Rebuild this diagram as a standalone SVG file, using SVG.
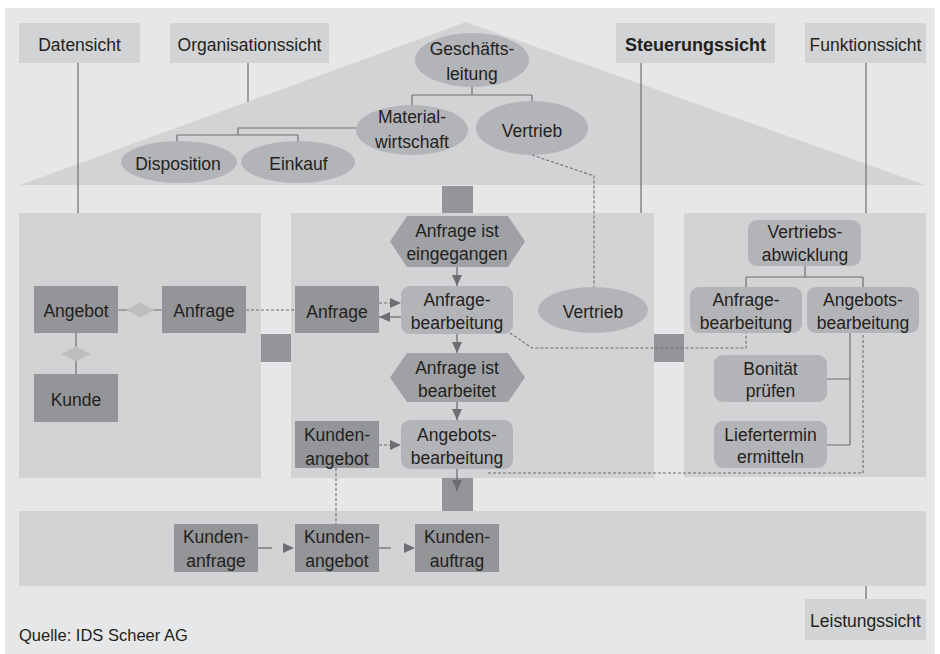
<svg xmlns="http://www.w3.org/2000/svg" width="940" height="654" viewBox="0 0 940 654">
  <defs>
    <style>
      text { font-family: "Liberation Sans", Arial, sans-serif; font-size: 17.5px; fill: #231f20; text-anchor: middle; }
      .bold { font-weight: bold; font-size: 18px; }
      .left { text-anchor: start; font-size: 16.5px; }
      .bg { fill: #e6e7e8; }
      .panel { fill: #d1d3d4; }
      .dark { fill: #939598; }
      .mid { fill: #b3b4b7; }
      .hex { fill: #9fa1a4; }
      .dia { fill: #bcbec0; }
      .link { fill: none; stroke: #6d6e71; stroke-width: 1.2; }
      .dash { fill: none; stroke: #6d6e71; stroke-width: 1.1; stroke-dasharray: 3 2; }
      .arrow { fill: none; stroke: #6d6e71; stroke-width: 1.3; }
    </style>
    <marker id="head" markerUnits="userSpaceOnUse" markerWidth="11" markerHeight="10" viewBox="0 0 11 10" refX="11" refY="5" orient="auto">
      <path d="M0 0 L11 5 L0 10 Z" fill="#6d6e71"/>
    </marker>
  </defs>

  <!-- background -->
  <rect class="bg" x="5" y="8" width="930" height="646"/>

  <!-- roof: organisation view -->
  <polygon id="roof" class="panel" points="20,185 466,22 925,185"/>

  <!-- view panels -->
  <rect id="panel-data" class="panel" x="19" y="213" width="242" height="265"/>
  <rect id="panel-control" class="panel" x="291" y="213" width="363" height="265"/>
  <rect id="panel-function" class="panel" x="684" y="213" width="242" height="264"/>
  <rect id="panel-output" class="panel" x="19" y="511" width="907" height="75"/>

  <!-- joints between views -->
  <g id="joints">
    <rect class="dark" x="442" y="186" width="31" height="27"/>
    <rect class="dark" x="261" y="334" width="30" height="28"/>
    <rect class="dark" x="654" y="334" width="30" height="28"/>
    <rect class="dark" x="442" y="478" width="31" height="33"/>
  </g>

  <!-- connectors -->
  <g id="connectors">
    <!-- view labels to their areas -->
    <path class="link" d="M78 63 V213"/>
    <path class="link" d="M248 63 V102"/>
    <path class="link" d="M641 63 V213"/>
    <path class="link" d="M866 63 V213"/>
    <path class="link" d="M866 586 V599"/>
    <!-- organisation tree -->
    <path class="link" d="M472 87 V95 M412 95 H532 M412 95 V106 M532 95 V101"/>
    <path class="link" d="M356 128 H238 V135 M177 135 H298 M177 135 V142 M298 135 V142"/>
    <!-- data model relations -->
    <path class="link" d="M118 310 H162"/>
    <path class="link" d="M76 333 V374"/>
    <!-- function tree -->
    <path class="link" d="M805 266 V277 M746 277 H863 M746 277 V287 M863 277 V287"/>
    <path class="link" d="M850 333 V445 M827 379 H850 M827 445 H850"/>
    <!-- process flow -->
    <path class="arrow" d="M457 267 V286" marker-end="url(#head)"/>
    <path class="arrow" d="M457 334 V353" marker-end="url(#head)"/>
    <path class="arrow" d="M457 402 V420" marker-end="url(#head)"/>
    <path class="arrow" d="M457 469 V491" marker-end="url(#head)"/>
    <path class="dash" d="M379 303 H390"/>
    <path d="M390 298 L401 303 L390 308 Z" fill="#6d6e71"/>
    <path class="arrow" d="M401 317 H379" marker-end="url(#head)"/>
    <path class="dash" d="M379 445 H390"/>
    <path d="M390 440 L401 445 L390 450 Z" fill="#6d6e71"/>
    <!-- output flow -->
    <path class="arrow" d="M243 548 H272"/>
    <path d="M283 543 L294 548 L283 553 Z" fill="#6d6e71"/>
    <path class="arrow" d="M379 548 H391"/>
    <path d="M404 543 L415 548 L404 553 Z" fill="#6d6e71"/>
    <!-- cross-view references -->
    <path class="dash" d="M246 310 H295"/>
    <path class="dash" d="M532 155 L594 176 V287"/>
    <path class="dash" d="M510 333 L532 348 H746 V333"/>
    <path class="dash" d="M488 473 H863 V333"/>
    <path class="dash" d="M336 468 V524"/>
  </g>

  <!-- view labels -->
  <g id="label-data"><rect class="panel" x="19" y="23" width="121" height="40"/><text x="79.5" y="51">Datensicht</text></g>
  <g id="label-org"><rect class="panel" x="170" y="23" width="159" height="40"/><text x="249.5" y="51">Organisationssicht</text></g>
  <g id="label-control"><rect class="panel" x="616" y="23" width="159" height="40"/><text class="bold" x="695.5" y="51">Steuerungssicht</text></g>
  <g id="label-function"><rect class="panel" x="805" y="23" width="121" height="40"/><text x="865.5" y="51">Funktionssicht</text></g>
  <g id="label-output"><rect class="panel" x="805" y="599" width="121" height="41"/><text x="865.5" y="627">Leistungssicht</text></g>

  <!-- organisation units -->
  <g id="org-gl"><ellipse class="mid" cx="472" cy="60" rx="57" ry="27"/><text x="472" y="55">Geschäfts-</text><text x="472" y="80">leitung</text></g>
  <g id="org-mw"><ellipse class="mid" cx="412" cy="130" rx="56" ry="25"/><text x="412" y="123">Material-</text><text x="412" y="148">wirtschaft</text></g>
  <g id="org-vertrieb"><ellipse class="mid" cx="532" cy="128" rx="56" ry="27"/><text x="532" y="137">Vertrieb</text></g>
  <g id="org-dispo"><ellipse class="mid" cx="179" cy="162" rx="58" ry="21"/><text x="178" y="170">Disposition</text></g>
  <g id="org-einkauf"><ellipse class="mid" cx="298" cy="162" rx="57" ry="21"/><text x="298.5" y="170">Einkauf</text></g>

  <!-- data view -->
  <g id="data-angebot"><rect class="dark" x="34" y="286" width="84" height="47"/><text x="76" y="317">Angebot</text></g>
  <g id="data-anfrage"><rect class="dark" x="162" y="286" width="84" height="47"/><text x="204" y="317">Anfrage</text></g>
  <g id="data-kunde"><rect class="dark" x="34" y="374" width="84" height="48"/><text x="76" y="406">Kunde</text></g>
  <g id="rel-angebot-anfrage"><polygon class="dia" points="126,310 140,302.5 155,310 140,317.5"/></g>
  <g id="rel-angebot-kunde"><polygon class="dia" points="61,354 76,346.5 91,354 76,361.5"/></g>

  <!-- control view -->
  <g id="ev-eingegangen"><polygon class="hex" points="390,241.5 407,216 508,216 525,241.5 508,267 407,267"/><text x="457" y="237">Anfrage ist</text><text x="457" y="260">eingegangen</text></g>
  <g id="fn-anfragebearb"><rect class="mid" x="401" y="286" width="112" height="48" rx="9"/><text x="457" y="306">Anfrage-</text><text x="457" y="329">bearbeitung</text></g>
  <g id="ctl-anfrage"><rect class="dark" x="295" y="286" width="84" height="47"/><text x="337" y="318">Anfrage</text></g>
  <g id="ctl-vertrieb"><ellipse class="mid" cx="593" cy="310" rx="55" ry="23"/><text x="593" y="318">Vertrieb</text></g>
  <g id="ev-bearbeitet"><polygon class="hex" points="390,377.5 407,353 508,353 525,377.5 508,402 407,402"/><text x="457" y="374">Anfrage ist</text><text x="457" y="397">bearbeitet</text></g>
  <g id="fn-angebotsbearb"><rect class="mid" x="401" y="420" width="112" height="49" rx="9"/><text x="457" y="441">Angebots-</text><text x="457" y="464">bearbeitung</text></g>
  <g id="ctl-kundenangebot"><rect class="dark" x="295" y="421" width="84" height="47"/><text x="337" y="441">Kunden-</text><text x="337" y="465">angebot</text></g>

  <!-- function view -->
  <g id="fv-abwicklung"><rect class="mid" x="748" y="220" width="113" height="46" rx="9"/><text x="805" y="238">Vertriebs-</text><text x="805" y="261">abwicklung</text></g>
  <g id="fv-anfragebearb"><rect class="mid" x="690" y="287" width="112" height="46" rx="9"/><text x="746" y="306">Anfrage-</text><text x="746" y="329">bearbeitung</text></g>
  <g id="fv-angebotsbearb"><rect class="mid" x="807" y="287" width="112" height="46" rx="9"/><text x="863" y="306">Angebots-</text><text x="863" y="329">bearbeitung</text></g>
  <g id="fv-bonitaet"><rect class="mid" x="714" y="355" width="113" height="47" rx="9"/><text x="770.5" y="375">Bonität</text><text x="770.5" y="397">prüfen</text></g>
  <g id="fv-liefertermin"><rect class="mid" x="714" y="421" width="113" height="47" rx="9"/><text x="770.5" y="441">Liefertermin</text><text x="770.5" y="463">ermitteln</text></g>

  <!-- output view -->
  <g id="out-anfrage"><rect class="dark" x="174" y="524" width="84" height="48"/><text x="216" y="543">Kunden-</text><text x="216" y="567">anfrage</text></g>
  <g id="out-angebot"><rect class="dark" x="295" y="524" width="84" height="48"/><text x="337" y="543">Kunden-</text><text x="337" y="567">angebot</text></g>
  <g id="out-auftrag"><rect class="dark" x="415" y="524" width="84" height="48"/><text x="457" y="543">Kunden-</text><text x="457" y="567">auftrag</text></g>

  <text class="left" x="19" y="641">Quelle: IDS Scheer AG</text>
</svg>
